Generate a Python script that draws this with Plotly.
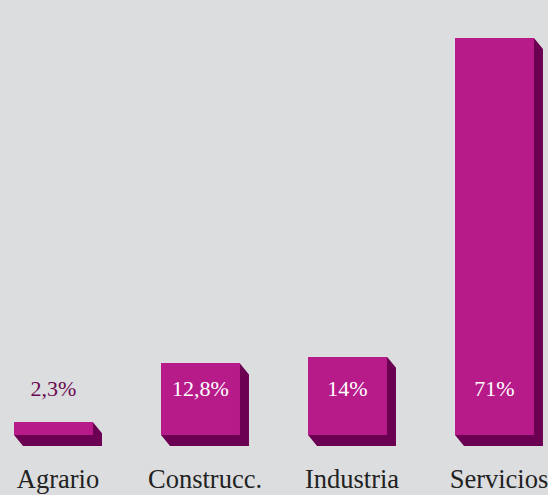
import plotly.graph_objects as go

categories = ["Agrario", "Construcc.", "Industria", "Servicios"]
values = [2.3, 12.8, 14, 71]
value_labels = ["2,3%", "12,8%", "14%", "71%"]
label_colors = ["#6b0a52", "white", "white", "white"]

W, H = 548, 495
x_range = [-0.364, 3.364]
y_range = [-10.73, 77.79]
bar_w = 0.537
px_x = W / (x_range[1] - x_range[0])
px_y = H / (y_range[1] - y_range[0])
dx = 9 / px_x
dy = 11 / px_y
value_label_y = 45 / px_y
cat_label_y = -46 / px_y

FRONT = "#b71b8a"
DARK = "#6b0052"
BG = "#dcdddf"

fig = go.Figure()
xs = list(range(len(categories)))

# extrusion (side + bottom faces)
for x, v in zip(xs, values):
    xl, xr = x - bar_w / 2, x + bar_w / 2
    px = [xl, xr, xr, xr + dx, xr + dx, xl + dx, xl]
    py = [0, 0, v, v - dy, -dy, -dy, 0]
    fig.add_trace(go.Scatter(x=px, y=py, mode="lines", fill="toself",
                             fillcolor=DARK, line=dict(width=0, color=DARK),
                             hoverinfo="skip", showlegend=False))

fig.add_trace(go.Bar(x=xs, y=values, width=bar_w, marker=dict(color=FRONT, line=dict(width=0)),
                     showlegend=False, hoverinfo="skip"))

fig.add_trace(go.Scatter(x=xs, y=[value_label_y] * len(xs), mode="text", text=value_labels,
                         textposition="middle center",
                         textfont=dict(family="Liberation Serif", size=22, color=label_colors),
                         showlegend=False, hoverinfo="skip"))

fig.add_trace(go.Scatter(x=[x + dx / 2 for x in xs], y=[cat_label_y] * len(xs), mode="text",
                         text=categories, textposition="middle center",
                         textfont=dict(family="Liberation Serif", size=26.5, color="#222222"),
                         showlegend=False, hoverinfo="skip", cliponaxis=False))

fig.update_layout(width=W, height=H, margin=dict(l=0, r=0, t=0, b=0),
                  paper_bgcolor=BG, plot_bgcolor=BG,
                  xaxis=dict(range=x_range, visible=False, fixedrange=True),
                  yaxis=dict(range=y_range, visible=False, fixedrange=True),
                  bargap=0)

fig.write_html("out.html", config={"displayModeBar": False},
               post_script="document.body.style.margin='0';document.body.style.background='#dcdddf';")
